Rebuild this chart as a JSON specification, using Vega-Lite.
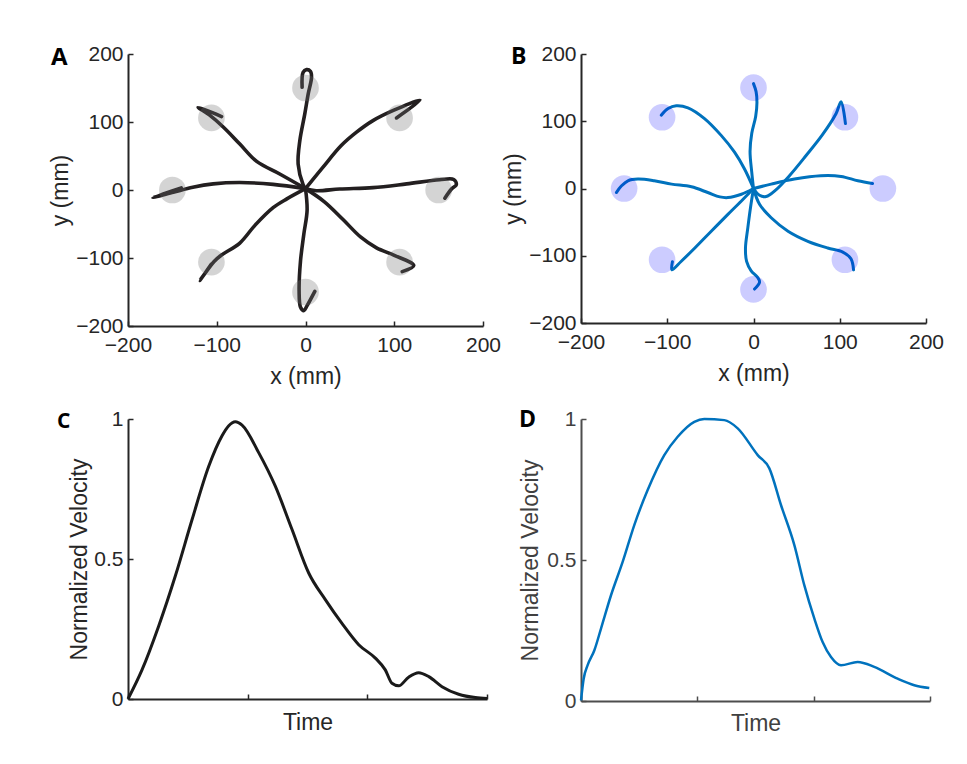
{
  "$schema": "https://vega.github.io/schema/vega-lite/v6.json",
  "background": "white",
  "padding": {"left": 49, "top": 43, "right": 5, "bottom": 5},
  "autosize": {"type": "pad"},
  "columns": 2,
  "align": "each",
  "bounds": "flush",
  "spacing": {"row": 93, "column": 94},
  "datasets": {
    "trajA": [
      {"id": "up", "i": 0, "x": 0, "y": 2}, {"id": "up", "i": 1, "x": -2.7, "y": 8}, {"id": "up", "i": 2, "x": -8.3, "y": 38}, {"id": "up", "i": 3, "x": -6.4, "y": 72.5}, {"id": "up", "i": 4, "x": -0.8, "y": 112}, {"id": "up", "i": 5, "x": 3, "y": 141}, {"id": "up", "i": 6, "x": 6.8, "y": 166}, {"id": "up", "i": 7, "x": 5.6, "y": 174.5}, {"id": "up", "i": 8, "x": 1.1, "y": 177}, {"id": "up", "i": 9, "x": -2.7, "y": 173}, {"id": "up", "i": 10, "x": -3.8, "y": 151},
      {"id": "upright", "i": 0, "x": 0, "y": 2}, {"id": "upright", "i": 1, "x": 20, "y": 34}, {"id": "upright", "i": 2, "x": 40, "y": 65}, {"id": "upright", "i": 3, "x": 57.5, "y": 85}, {"id": "upright", "i": 4, "x": 76, "y": 102}, {"id": "upright", "i": 5, "x": 99, "y": 117}, {"id": "upright", "i": 6, "x": 129, "y": 132}, {"id": "upright", "i": 7, "x": 102.5, "y": 106},
      {"id": "right", "i": 0, "x": 0, "y": 2}, {"id": "right", "i": 1, "x": 12, "y": -1}, {"id": "right", "i": 2, "x": 38.6, "y": 1.5}, {"id": "right", "i": 3, "x": 76, "y": 3.5}, {"id": "right", "i": 4, "x": 114, "y": 9}, {"id": "right", "i": 5, "x": 151, "y": 15}, {"id": "right", "i": 6, "x": 167, "y": 15.5}, {"id": "right", "i": 7, "x": 170, "y": 8}, {"id": "right", "i": 8, "x": 164.5, "y": 1.5}, {"id": "right", "i": 9, "x": 157, "y": -12},
      {"id": "left", "i": 0, "x": 0, "y": 2}, {"id": "left", "i": 1, "x": -36.5, "y": 8.3}, {"id": "left", "i": 2, "x": -74, "y": 11}, {"id": "left", "i": 3, "x": -104, "y": 9}, {"id": "left", "i": 4, "x": -127, "y": 4}, {"id": "left", "i": 5, "x": -149, "y": -3.4}, {"id": "left", "i": 6, "x": -172, "y": -11}, {"id": "left", "i": 7, "x": -140, "y": 3},
      {"id": "upleft", "i": 0, "x": 0, "y": 2}, {"id": "upleft", "i": 1, "x": -29, "y": 23.5}, {"id": "upleft", "i": 2, "x": -55, "y": 42}, {"id": "upleft", "i": 3, "x": -74, "y": 67.6}, {"id": "upleft", "i": 4, "x": -93, "y": 93}, {"id": "upleft", "i": 5, "x": -108, "y": 110}, {"id": "upleft", "i": 6, "x": -121, "y": 121.6}, {"id": "upleft", "i": 7, "x": -94.6, "y": 108},
      {"id": "lowleft", "i": 0, "x": 0, "y": 2}, {"id": "lowleft", "i": 1, "x": -21, "y": -13}, {"id": "lowleft", "i": 2, "x": -36.5, "y": -26}, {"id": "lowleft", "i": 3, "x": -57, "y": -52}, {"id": "lowleft", "i": 4, "x": -74, "y": -78}, {"id": "lowleft", "i": 5, "x": -95, "y": -96}, {"id": "lowleft", "i": 6, "x": -103, "y": -105}, {"id": "lowleft", "i": 7, "x": -119, "y": -133}, {"id": "lowleft", "i": 8, "x": -106, "y": -109},
      {"id": "down", "i": 0, "x": 0, "y": 2}, {"id": "down", "i": 1, "x": 1.8, "y": -30}, {"id": "down", "i": 2, "x": -1.9, "y": -65}, {"id": "down", "i": 3, "x": -5.6, "y": -104}, {"id": "down", "i": 4, "x": -7.2, "y": -148}, {"id": "down", "i": 5, "x": -5.6, "y": -172.5}, {"id": "down", "i": 6, "x": -1.9, "y": -177.5}, {"id": "down", "i": 7, "x": 1.8, "y": -170}, {"id": "down", "i": 8, "x": 10.5, "y": -149},
      {"id": "lowright", "i": 0, "x": 0, "y": 2}, {"id": "lowright", "i": 1, "x": 21, "y": -17}, {"id": "lowright", "i": 2, "x": 42, "y": -43}, {"id": "lowright", "i": 3, "x": 62, "y": -69}, {"id": "lowright", "i": 4, "x": 80, "y": -85}, {"id": "lowright", "i": 5, "x": 100, "y": -96}, {"id": "lowright", "i": 6, "x": 122, "y": -111}, {"id": "lowright", "i": 7, "x": 109, "y": -120}
    ],
    "trajB": [
      {"id": "up", "i": 0, "x": 0, "y": 0}, {"id": "up", "i": 1, "x": -2, "y": 24}, {"id": "up", "i": 2, "x": -4, "y": 55}, {"id": "up", "i": 3, "x": -2, "y": 82}, {"id": "up", "i": 4, "x": 2.5, "y": 107}, {"id": "up", "i": 5, "x": 4, "y": 128}, {"id": "up", "i": 6, "x": 3, "y": 144}, {"id": "up", "i": 7, "x": 0, "y": 156},
      {"id": "upleft", "i": 0, "x": 0, "y": 0}, {"id": "upleft", "i": 1, "x": -10.4, "y": 29}, {"id": "upleft", "i": 2, "x": -22, "y": 54}, {"id": "upleft", "i": 3, "x": -37.5, "y": 79}, {"id": "upleft", "i": 4, "x": -56.8, "y": 104}, {"id": "upleft", "i": 5, "x": -76, "y": 120}, {"id": "upleft", "i": 6, "x": -89.6, "y": 123}, {"id": "upleft", "i": 7, "x": -99, "y": 119}, {"id": "upleft", "i": 8, "x": -107, "y": 109},
      {"id": "upright", "i": 0, "x": 0, "y": 0}, {"id": "upright", "i": 1, "x": 7, "y": -10}, {"id": "upright", "i": 2, "x": 14.7, "y": -12}, {"id": "upright", "i": 3, "x": 26, "y": -2}, {"id": "upright", "i": 4, "x": 41.7, "y": 19}, {"id": "upright", "i": 5, "x": 61, "y": 49}, {"id": "upright", "i": 6, "x": 80, "y": 80}, {"id": "upright", "i": 7, "x": 95.8, "y": 111.5}, {"id": "upright", "i": 8, "x": 101.5, "y": 129}, {"id": "upright", "i": 9, "x": 106.6, "y": 96.5},
      {"id": "right", "i": 0, "x": 0, "y": 0}, {"id": "right", "i": 1, "x": 20.5, "y": 6.5}, {"id": "right", "i": 2, "x": 47.5, "y": 14}, {"id": "right", "i": 3, "x": 78, "y": 19}, {"id": "right", "i": 4, "x": 101.5, "y": 18}, {"id": "right", "i": 5, "x": 121, "y": 11.5}, {"id": "right", "i": 6, "x": 138, "y": 7.5},
      {"id": "left", "i": 0, "x": 0, "y": 0}, {"id": "left", "i": 1, "x": -14, "y": -8.5}, {"id": "left", "i": 2, "x": -29.7, "y": -13.5}, {"id": "left", "i": 3, "x": -39, "y": -12.5}, {"id": "left", "i": 4, "x": -53, "y": -6}, {"id": "left", "i": 5, "x": -72, "y": 2.5}, {"id": "left", "i": 6, "x": -95, "y": 6.5}, {"id": "left", "i": 7, "x": -115, "y": 11.5}, {"id": "left", "i": 8, "x": -134, "y": 14}, {"id": "left", "i": 9, "x": -145.6, "y": 11.5}, {"id": "left", "i": 10, "x": -153, "y": 4}, {"id": "left", "i": 11, "x": -159, "y": -6},
      {"id": "lowleft", "i": 0, "x": 0, "y": 0}, {"id": "lowleft", "i": 1, "x": -14, "y": -18.5}, {"id": "lowleft", "i": 2, "x": -29.7, "y": -38.5}, {"id": "lowleft", "i": 3, "x": -49, "y": -63.5}, {"id": "lowleft", "i": 4, "x": -68, "y": -88.5}, {"id": "lowleft", "i": 5, "x": -84, "y": -108.5}, {"id": "lowleft", "i": 6, "x": -94.6, "y": -121}, {"id": "lowleft", "i": 7, "x": -94, "y": -109},
      {"id": "down", "i": 0, "x": 0, "y": 0}, {"id": "down", "i": 1, "x": -3.5, "y": -28.5}, {"id": "down", "i": 2, "x": -6.6, "y": -58.5}, {"id": "down", "i": 3, "x": -9.3, "y": -88.5}, {"id": "down", "i": 4, "x": -8, "y": -108.5}, {"id": "down", "i": 5, "x": -2.7, "y": -122.5}, {"id": "down", "i": 6, "x": 5, "y": -132.5}, {"id": "down", "i": 7, "x": 7, "y": -139.5}, {"id": "down", "i": 8, "x": 1.2, "y": -149.5},
      {"id": "lowright", "i": 0, "x": 0, "y": 0}, {"id": "lowright", "i": 1, "x": 7, "y": -23.5}, {"id": "lowright", "i": 2, "x": 20.5, "y": -43.5}, {"id": "lowright", "i": 3, "x": 40, "y": -63.5}, {"id": "lowright", "i": 4, "x": 63, "y": -78.5}, {"id": "lowright", "i": 5, "x": 86, "y": -88.5}, {"id": "lowright", "i": 6, "x": 103.5, "y": -94.5}, {"id": "lowright", "i": 7, "x": 113, "y": -104.5}, {"id": "lowright", "i": 8, "x": 116, "y": -121}
    ],
    "targets": [
      {"x": 0, "y": 150}, {"x": 106, "y": 106}, {"x": 150, "y": 0}, {"x": 106, "y": -106},
      {"x": 0, "y": -150}, {"x": -106, "y": -106}, {"x": -150, "y": 0}, {"x": -106, "y": 106}
    ],
    "velC": [
      {"t": 0, "v": 0}, {"t": 0.117, "v": 0.104}, {"t": 0.256, "v": 0.26}, {"t": 0.396, "v": 0.44}, {"t": 0.535, "v": 0.64}, {"t": 0.674, "v": 0.83}, {"t": 0.786, "v": 0.94}, {"t": 0.84, "v": 0.975}, {"t": 0.897, "v": 0.99}, {"t": 0.953, "v": 0.978}, {"t": 1.092, "v": 0.88}, {"t": 1.231, "v": 0.76}, {"t": 1.37, "v": 0.606}, {"t": 1.51, "v": 0.45}, {"t": 1.649, "v": 0.355}, {"t": 1.788, "v": 0.27}, {"t": 1.928, "v": 0.194}, {"t": 2.067, "v": 0.146}, {"t": 2.15, "v": 0.104}, {"t": 2.206, "v": 0.056}, {"t": 2.262, "v": 0.047}, {"t": 2.345, "v": 0.078}, {"t": 2.429, "v": 0.094}, {"t": 2.513, "v": 0.08}, {"t": 2.624, "v": 0.044}, {"t": 2.763, "v": 0.017}, {"t": 2.903, "v": 0.005}, {"t": 3, "v": 0.002}
    ],
    "velD": [
      {"t": 0, "v": 0.002}, {"t": 0.023, "v": 0.079}, {"t": 0.057, "v": 0.127}, {"t": 0.115, "v": 0.18}, {"t": 0.172, "v": 0.257}, {"t": 0.258, "v": 0.375}, {"t": 0.358, "v": 0.493}, {"t": 0.458, "v": 0.624}, {"t": 0.573, "v": 0.748}, {"t": 0.716, "v": 0.872}, {"t": 0.831, "v": 0.937}, {"t": 0.974, "v": 0.99}, {"t": 1.06, "v": 1.0}, {"t": 1.232, "v": 0.996}, {"t": 1.347, "v": 0.967}, {"t": 1.519, "v": 0.872}, {"t": 1.619, "v": 0.825}, {"t": 1.719, "v": 0.695}, {"t": 1.834, "v": 0.553}, {"t": 1.92, "v": 0.41}, {"t": 2.006, "v": 0.292}, {"t": 2.077, "v": 0.209}, {"t": 2.149, "v": 0.156}, {"t": 2.235, "v": 0.127}, {"t": 2.378, "v": 0.138}, {"t": 2.521, "v": 0.121}, {"t": 2.722, "v": 0.079}, {"t": 2.865, "v": 0.056}, {"t": 2.994, "v": 0.046}
    ]
  },
  "concat": [
    {
      "title": {"text": "A", "anchor": "start", "frame": "group", "dx": -77, "offset": -27, "baseline": "top", "fontSize": 24, "fontWeight": "bold", "font": "Open Sans", "color": "#000000"},
      "width": 355, "height": 272,
      "layer": [
        {
          "data": {"name": "trajA"},
          "mark": {"type": "line", "color": "#231f20", "strokeWidth": 3.6, "interpolate": "catmull-rom", "strokeCap": "round", "strokeJoin": "round"},
          "encoding": {
            "x": {"field": "x", "type": "quantitative", "scale": {"domain": [-200, 200], "nice": false}, "axis": {"title": "x (mm)", "values": [-200, -100, 0, 100, 200]}},
            "y": {"field": "y", "type": "quantitative", "scale": {"domain": [-200, 200], "nice": false}, "axis": {"title": "y (mm)", "values": [-200, -100, 0, 100, 200], "titlePadding": 3}},
            "detail": {"field": "id"},
            "order": {"field": "i"}
          }
        },
        {
          "data": {"name": "targets"},
          "mark": {"type": "circle", "size": 711, "color": "#707070", "opacity": 0.3},
          "encoding": {
            "x": {"field": "x", "type": "quantitative"},
            "y": {"field": "y", "type": "quantitative"}
          }
        }
      ]
    },
    {
      "title": {"text": "B", "anchor": "start", "frame": "group", "dx": -70, "offset": -26, "baseline": "top", "fontSize": 23, "fontWeight": "bold", "font": "Open Sans", "color": "#000000"},
      "width": 345, "height": 269,
      "layer": [
        {
          "data": {"name": "trajB"},
          "mark": {"type": "line", "color": "#0072BD", "strokeWidth": 3, "interpolate": "catmull-rom", "strokeCap": "round", "strokeJoin": "round"},
          "encoding": {
            "x": {"field": "x", "type": "quantitative", "scale": {"domain": [-200, 200], "nice": false}, "axis": {"title": "x (mm)", "values": [-200, -100, 0, 100, 200]}},
            "y": {"field": "y", "type": "quantitative", "scale": {"domain": [-200, 200], "nice": false}, "axis": {"title": "y (mm)", "values": [-200, -100, 0, 100, 200], "titlePadding": 3}},
            "detail": {"field": "id"},
            "order": {"field": "i"}
          }
        },
        {
          "data": {"name": "targets"},
          "mark": {"type": "circle", "size": 711, "color": "#0000ff", "opacity": 0.2},
          "encoding": {
            "x": {"field": "x", "type": "quantitative"},
            "y": {"field": "y", "type": "quantitative"}
          }
        }
      ]
    },
    {
      "title": {"text": "C", "anchor": "start", "frame": "group", "dx": -71, "offset": -24, "baseline": "top", "fontSize": 21, "fontWeight": "bold", "font": "Open Sans", "color": "#000000"},
      "width": 359, "height": 280,
      "data": {"name": "velC"},
      "mark": {"type": "line", "color": "#1a1a1a", "strokeWidth": 3, "interpolate": "monotone"},
      "encoding": {
        "x": {"field": "t", "type": "quantitative", "scale": {"domain": [0, 3], "nice": false}, "axis": {"title": "Time", "values": [0, 1, 2, 3], "labels": false, "titlePadding": 12}},
        "y": {"field": "v", "type": "quantitative", "scale": {"domain": [0, 1], "nice": false}, "axis": {"title": "Normalized Velocity", "values": [0, 0.5, 1], "format": "~g", "titlePadding": 2}}
      }
    },
    {
      "title": {"text": "D", "anchor": "start", "frame": "group", "dx": -62, "offset": -24, "baseline": "top", "fontSize": 23, "fontWeight": "bold", "font": "Open Sans", "color": "#000000"},
      "width": 349, "height": 282,
      "data": {"name": "velD"},
      "mark": {"type": "line", "color": "#0072BD", "strokeWidth": 2.5, "interpolate": "monotone"},
      "encoding": {
        "x": {"field": "t", "type": "quantitative", "scale": {"domain": [0, 3], "nice": false}, "axis": {"title": "Time", "values": [0, 1, 2, 3], "labels": false, "titlePadding": 11, "domainColor": "#4d4d4d", "tickColor": "#4d4d4d", "titleColor": "#404040"}},
        "y": {"field": "v", "type": "quantitative", "scale": {"domain": [0, 1], "nice": false}, "axis": {"title": "Normalized Velocity", "values": [0, 0.5, 1], "format": "~g", "titlePadding": 4, "domainColor": "#4d4d4d", "tickColor": "#4d4d4d", "labelColor": "#404040", "titleColor": "#404040"}}
      }
    }
  ],
  "config": {
    "view": {"stroke": null},
    "font": "Liberation Sans",
    "axis": {
      "grid": false,
      "domainColor": "#262626",
      "domainWidth": 2,
      "tickColor": "#262626",
      "tickWidth": 1.5,
      "tickSize": -5,
      "labelFont": "Liberation Sans",
      "labelFontSize": 21,
      "labelColor": "#262626",
      "titleFont": "Liberation Sans",
      "titleFontSize": 23,
      "titleFontWeight": "normal",
      "titleColor": "#262626",
      "labelFlush": false,
      "labelOverlap": false
    },
    "axisX": {"titlePadding": 10, "labelPadding": 13},
    "axisY": {"labelPadding": 10}
  }
}
